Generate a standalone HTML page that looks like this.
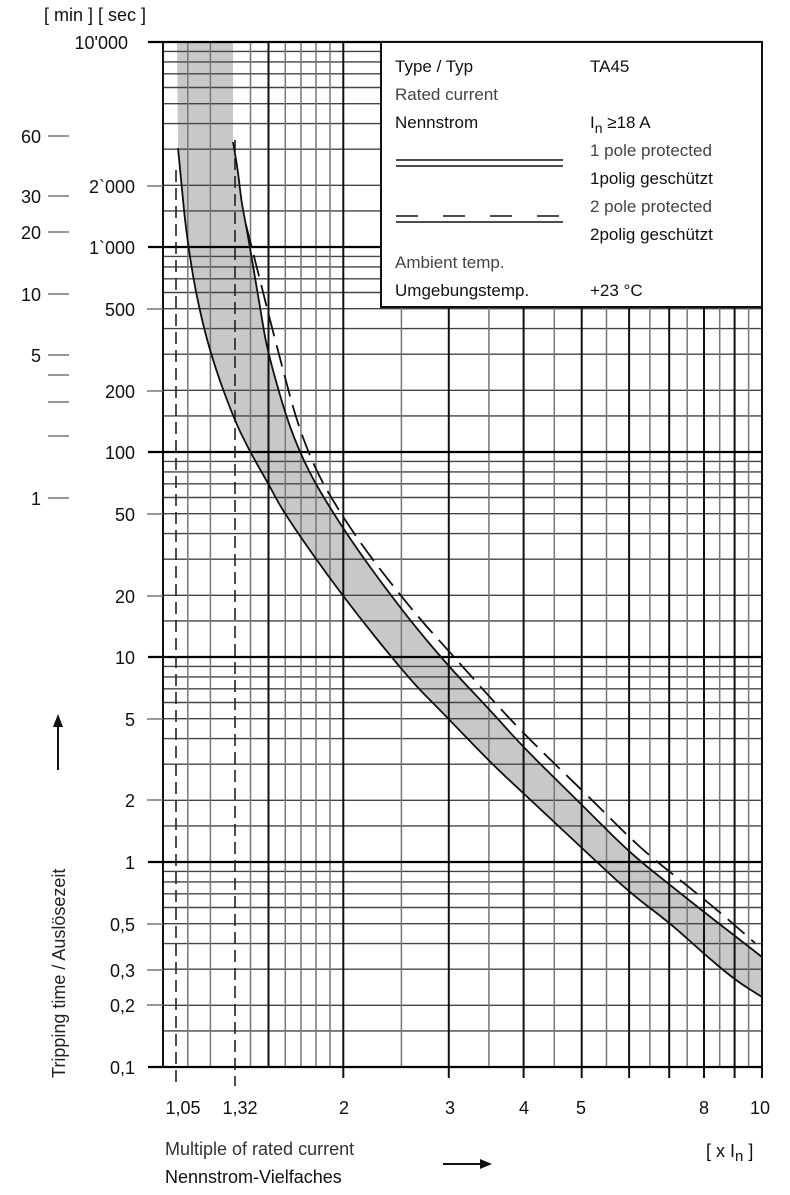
<!DOCTYPE html>
<html><head><meta charset="utf-8"><style>
body{margin:0;background:#fff;}
svg{display:block;font-family:"Liberation Sans","DejaVu Sans",sans-serif;}
</style></head><body>
<svg id="s" width="790" height="1195" viewBox="0 0 790 1195" xmlns="http://www.w3.org/2000/svg">
<defs>
<g id="dec" stroke="#444" stroke-width="1.4">
<line x1="163" x2="762" y1="-36.1" y2="-36.1"/>
<line x1="163" x2="762" y1="-61.7" y2="-61.7"/>
<line x1="163" x2="762" y1="-97.8" y2="-97.8"/>
<line x1="163" x2="762" y1="-123.4" y2="-123.4"/>
<line x1="163" x2="762" y1="-143.3" y2="-143.3"/>
<line x1="163" x2="762" y1="-159.5" y2="-159.5"/>
<line x1="163" x2="762" y1="-173.2" y2="-173.2"/>
<line x1="163" x2="762" y1="-185.1" y2="-185.1"/>
<line x1="163" x2="762" y1="-195.6" y2="-195.6"/>
</g>
</defs>
<polygon class="sm" fill="#c8c8c8" points="177,42 177,42 233,42 233,42 233,142 233,142 238,170 241,200 247,230 260,307 268,355 297,452 343,530 403,612 450,668 490,710 523,747 582,805 630,853 670,885 704,912 735,936 762,957 762,957 762,997 762,997 735,980 703,953 670,923 630,893 582,848 523,793 490,762 440,710 410,680 343,597 285,515 268,483 250,452 233,417 210,353 195,290 186,230 182,190 178,148 178,148 177,42 177,42"/>
<use href="#dec" transform="translate(0,1067)"/>
<use href="#dec" transform="translate(0,862)"/>
<use href="#dec" transform="translate(0,657)"/>
<use href="#dec" transform="translate(0,452)"/>
<use href="#dec" transform="translate(0,247)"/>
<g stroke="#777" stroke-width="1.5">
<line x1="187.8" x2="187.8" y1="42" y2="1067"/>
<line x1="210.4" x2="210.4" y1="42" y2="1067"/>
<line x1="250.5" x2="250.5" y1="42" y2="1067"/>
<line x1="285.3" x2="285.3" y1="42" y2="1067"/>
<line x1="301" x2="301" y1="42" y2="1067"/>
<line x1="316" x2="316" y1="42" y2="1067"/>
<line x1="330" x2="330" y1="42" y2="1067"/>
<line x1="401.4" x2="401.4" y1="42" y2="1067"/>
<line x1="488.9" x2="488.9" y1="42" y2="1067"/>
<line x1="554.3" x2="554.3" y1="42" y2="1067"/>
<line x1="606.5" x2="606.5" y1="42" y2="1067"/>
<line x1="649.9" x2="649.9" y1="42" y2="1067"/>
<line x1="687.2" x2="687.2" y1="42" y2="1067"/>
<line x1="719.7" x2="719.7" y1="42" y2="1067"/>
<line x1="748.6" x2="748.6" y1="42" y2="1067"/>
</g>
<g stroke="#111" stroke-width="2">
<line x1="268.5" x2="268.5" y1="42" y2="1067"/>
<line x1="343.3" x2="343.3" y1="42" y2="1078"/>
<line x1="448.8" x2="448.8" y1="42" y2="1078"/>
<line x1="523.6" x2="523.6" y1="42" y2="1078"/>
<line x1="581.7" x2="581.7" y1="42" y2="1078"/>
<line x1="629.1" x2="629.1" y1="42" y2="1078"/>
<line x1="669.2" x2="669.2" y1="42" y2="1078"/>
<line x1="704" x2="704" y1="42" y2="1078"/>
<line x1="734.6" x2="734.6" y1="42" y2="1078"/>
<line x1="762" x2="762" y1="42" y2="1078"/>
<line x1="163" x2="163" y1="42" y2="1067"/>
</g>
<g stroke="#000" stroke-width="2.2">
<line x1="148" x2="762" y1="42" y2="42"/>
<line x1="148" x2="762" y1="247" y2="247"/>
<line x1="148" x2="762" y1="452" y2="452"/>
<line x1="148" x2="762" y1="657" y2="657"/>
<line x1="148" x2="762" y1="862" y2="862"/>
<line x1="148" x2="762" y1="1067" y2="1067"/>
</g>
<g stroke="#777" stroke-width="1.5">
<line x1="147" x2="163" y1="186" y2="186"/>
<line x1="147" x2="163" y1="309" y2="309"/>
<line x1="147" x2="163" y1="391" y2="391"/>
<line x1="147" x2="163" y1="514" y2="514"/>
<line x1="147" x2="163" y1="596" y2="596"/>
<line x1="147" x2="163" y1="719" y2="719"/>
<line x1="147" x2="163" y1="800" y2="800"/>
<line x1="147" x2="163" y1="924" y2="924"/>
<line x1="147" x2="163" y1="970" y2="970"/>
<line x1="147" x2="163" y1="1005" y2="1005"/>
<line x1="48" x2="69" y1="136" y2="136"/>
<line x1="48" x2="69" y1="196" y2="196"/>
<line x1="48" x2="69" y1="232" y2="232"/>
<line x1="48" x2="69" y1="294" y2="294"/>
<line x1="48" x2="69" y1="355" y2="355"/>
<line x1="48" x2="69" y1="375" y2="375"/>
<line x1="48" x2="69" y1="402" y2="402"/>
<line x1="48" x2="69" y1="436" y2="436"/>
<line x1="48" x2="69" y1="498" y2="498"/>
</g>
<g stroke="#222" stroke-width="1.6" stroke-dasharray="12,6" fill="none">
<line x1="176" x2="176" y1="170" y2="1086"/>
<line x1="235" x2="235" y1="140" y2="1086"/>
</g>
<g fill="none" stroke="#111" stroke-width="1.8">
<polyline class="sm" points="178,148 182,190 186,230 195,290 210,353 233,417 250,452 268,483 285,515 343,597 410,680 440,710 490,762 523,793 582,848 630,893 670,923 703,953 735,980 762,997"/>
<polyline class="sm" points="233,142 238,170 241,200 247,230 260,307 268,355 297,452 343,530 403,612 450,668 490,710 523,747 582,805 630,853 670,885 704,912 735,936 762,957"/>
<polyline class="sm" stroke-dasharray="22,9" points="246,225 255,260 275,340 305,452 350,530 410,608 455,658 495,703 530,740 590,798 640,848 680,880 715,908 755,943"/>
</g>
<rect x="381" y="42" width="381" height="265" fill="#fff" stroke="#111" stroke-width="2"/>
<g font-size="17" fill="#111">
<text x="395" y="72">Type / Typ</text>
<text x="590" y="72">TA45</text>
<text x="395" y="100" fill="#444">Rated current</text>
<text x="395" y="128">Nennstrom</text>
<text x="590" y="128">I<tspan font-size="14" dy="5">n</tspan><tspan dy="-5"> ≥18 A</tspan></text>
<text x="590" y="156" fill="#444">1 pole protected</text>
<text x="590" y="184">1polig geschützt</text>
<text x="590" y="212" fill="#444">2 pole protected</text>
<text x="590" y="240">2polig geschützt</text>
<text x="395" y="268" fill="#444">Ambient  temp.</text>
<text x="395" y="296">Umgebungstemp.</text>
<text x="590" y="296">+23 °C</text>
</g>
<g stroke="#111" stroke-width="1.6">
<line x1="396" x2="563" y1="160" y2="160"/>
<line x1="396" x2="563" y1="166" y2="166"/>
<line x1="396" x2="563" y1="222" y2="222"/>
<line x1="396" x2="563" y1="216" y2="216" stroke-dasharray="22,25"/>
</g>
<g font-size="18" fill="#111" text-anchor="end">
<text x="146" y="21">[ min ]  [ sec ]</text>
<text x="128" y="49">10'000</text>
<text x="135" y="193">2`000</text>
<text x="135" y="254">1`000</text>
<text x="135" y="316">500</text>
<text x="135" y="398">200</text>
<text x="135" y="459">100</text>
<text x="135" y="521">50</text>
<text x="135" y="603">20</text>
<text x="135" y="664">10</text>
<text x="135" y="726">5</text>
<text x="135" y="807">2</text>
<text x="135" y="869">1</text>
<text x="135" y="931">0,5</text>
<text x="135" y="977">0,3</text>
<text x="135" y="1012">0,2</text>
<text x="135" y="1074">0,1</text>
<text x="41" y="143">60</text>
<text x="41" y="203">30</text>
<text x="41" y="239">20</text>
<text x="41" y="301">10</text>
<text x="41" y="362">5</text>
<text x="41" y="505">1</text>
</g>
<g font-size="18" fill="#111" text-anchor="middle">
<text x="183" y="1114">1,05</text>
<text x="240" y="1114">1,32</text>
<text x="344" y="1114">2</text>
<text x="450" y="1114">3</text>
<text x="524" y="1114">4</text>
<text x="581" y="1114">5</text>
<text x="704" y="1114">8</text>
<text x="760" y="1114">10</text>
</g>
<g font-size="18" fill="#111">
<text x="165" y="1155" fill="#333">Multiple of rated current</text>
<text x="165" y="1183">Nennstrom-Vielfaches</text>
<text x="706" y="1157">[ x I<tspan font-size="15" dy="4">n</tspan><tspan dy="-4"> ]</tspan></text>
<text transform="translate(65,1078) rotate(-90)" fill="#222">Tripping time / Auslösezeit</text>
</g>
<g stroke="#111" stroke-width="2" fill="#111">
<line x1="443" x2="482" y1="1164" y2="1164"/>
<polygon points="492,1164 480,1159 480,1169" stroke="none"/>
<line x1="58" x2="58" y1="770" y2="725"/>
<polygon points="58,714 53,727 63,727" stroke="none"/>
</g>
</svg>
<script>
(function(){
var NS="http://www.w3.org/2000/svg";
document.querySelectorAll(".sm").forEach(function(el){
 var p=el.getAttribute("points").trim().split(/\s+/).map(function(s){return s.split(",").map(Number);});
 var d="M"+p[0][0]+","+p[0][1];
 for(var i=1;i<p.length-1;i++){
  var m=[(p[i][0]+p[i+1][0])/2,(p[i][1]+p[i+1][1])/2];
  d+=" Q"+p[i][0]+","+p[i][1]+" "+m[0]+","+m[1];
 }
 d+=" L"+p[p.length-1][0]+","+p[p.length-1][1];
 var path=document.createElementNS(NS,"path");
 for(var k=0;k<el.attributes.length;k++){var a=el.attributes[k];if(a.name!="points"&&a.name!="class")path.setAttribute(a.name,a.value);}
 path.setAttribute("d",d);
 el.parentNode.replaceChild(path,el);
});
})();
</script>
</body></html>
